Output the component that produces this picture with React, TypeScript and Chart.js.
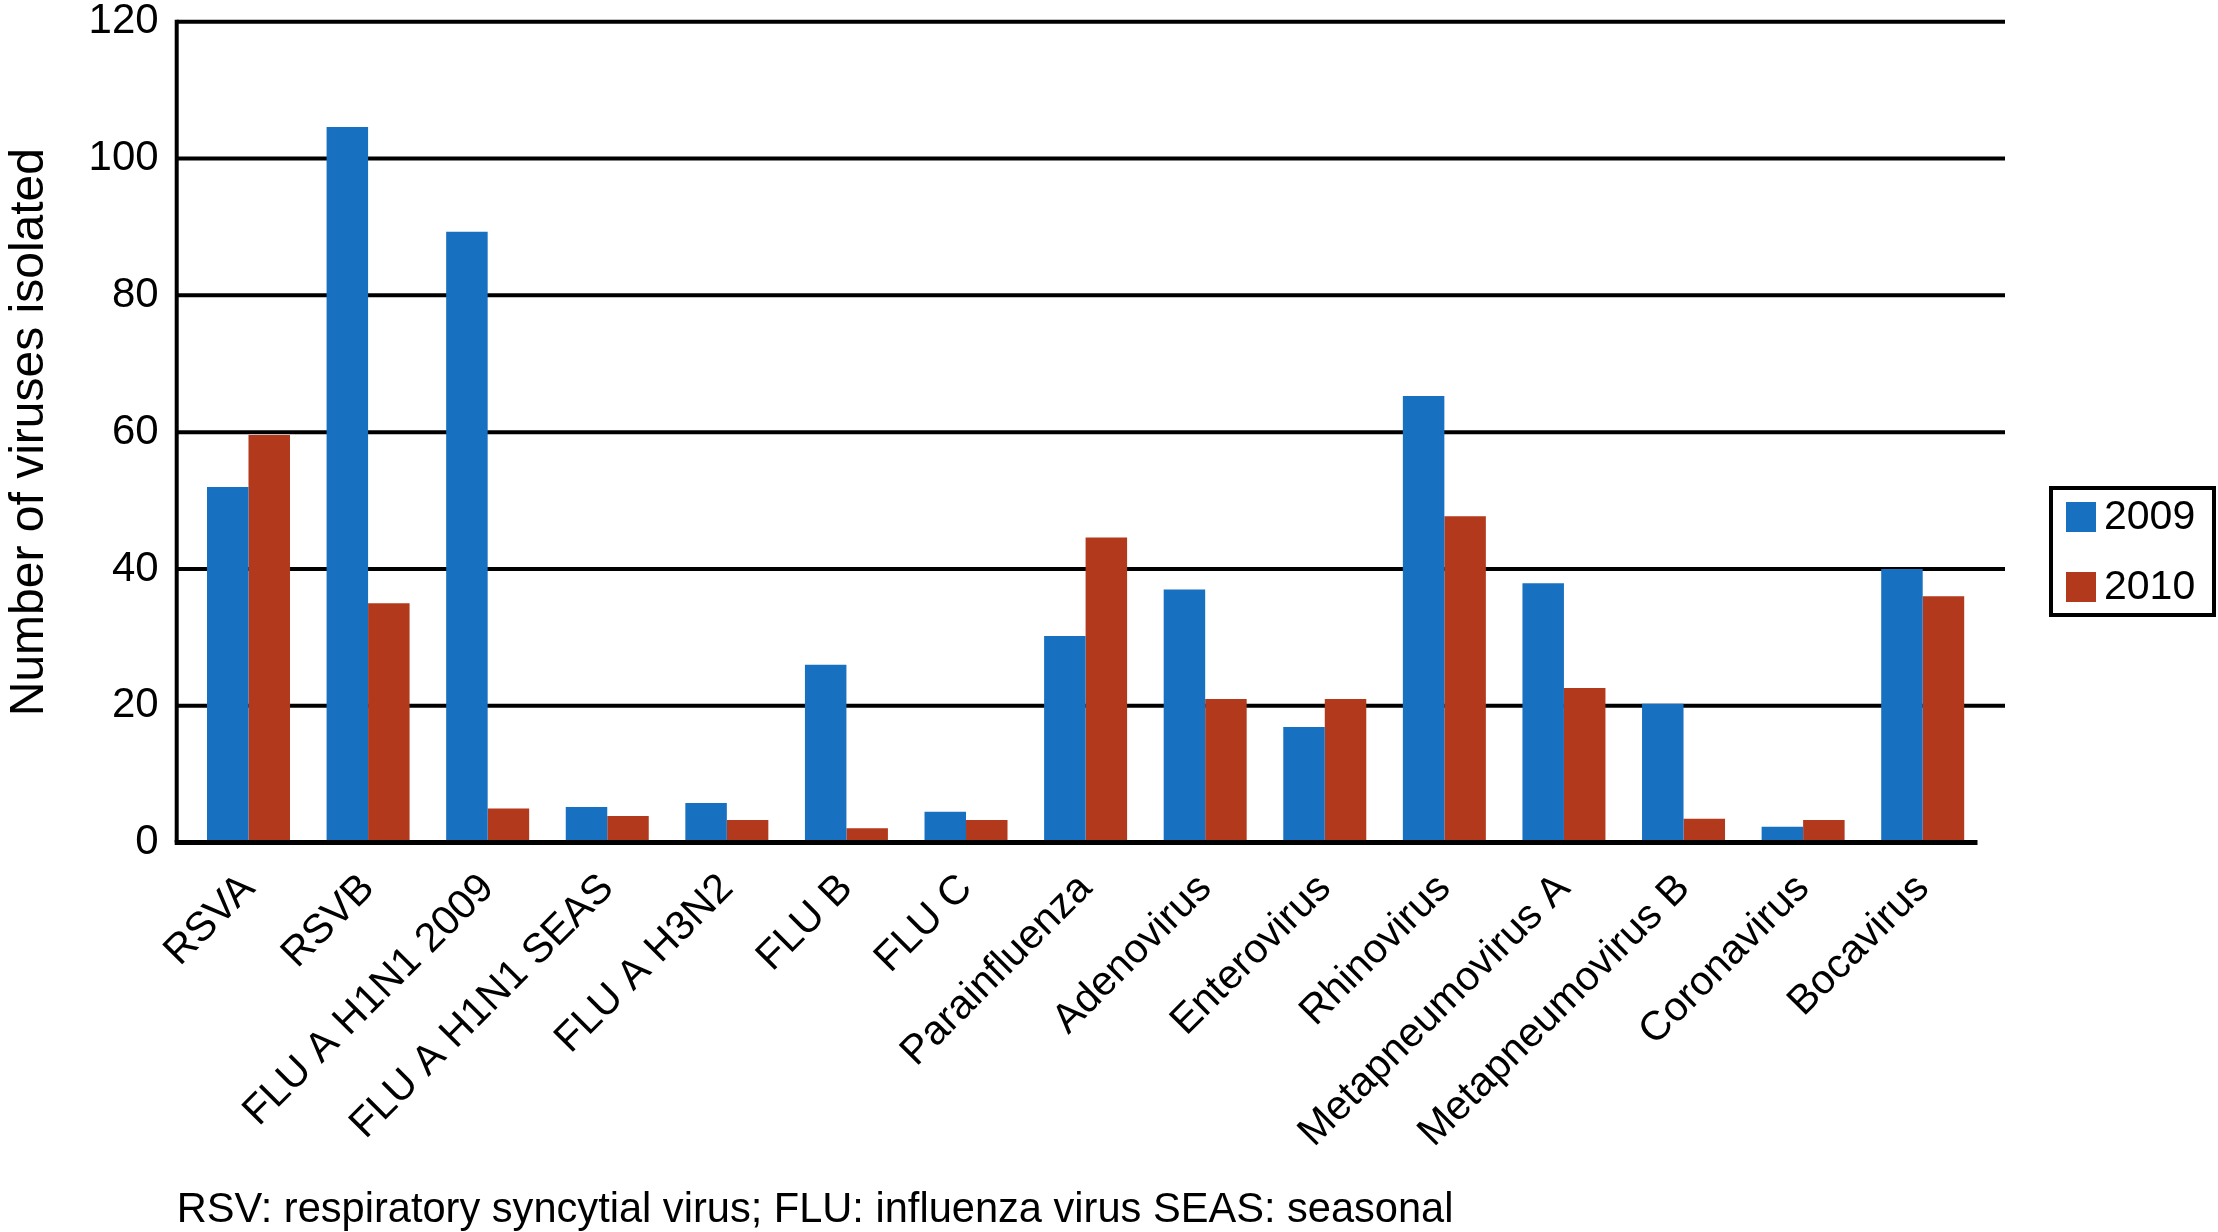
import React, { useEffect, useRef } from 'react';
import { Chart, registerables } from 'chart.js';

Chart.register(...registerables);

const categories = [
  'RSVA',
  'RSVB',
  'FLU A H1N1 2009',
  'FLU A H1N1 SEAS',
  'FLU A H3N2',
  'FLU B',
  'FLU C',
  'Parainfluenza',
  'Adenovirus',
  'Enterovirus',
  'Rhinovirus',
  'Metapneumovirus A',
  'Metapneumovirus B',
  'Coronavirus',
  'Bocavirus',
];

const values2009 = [52, 104.6, 89.3, 5.2, 5.8, 26, 4.5, 30.2, 37, 16.9, 65.3, 37.9, 20.3, 2.3, 40];
const values2010 = [59.6, 35, 5, 3.9, 3.3, 2.1, 3.3, 44.6, 21, 21, 47.7, 22.6, 3.5, 3.3, 36];

const seriesLabels = ['2009', '2010'];
const seriesColors = ['#1870C0', '#B3391C'];

const yMin = 0;
const yMax = 120;
const yStep = 20;

const yAxisTitle = 'Number of viruses isolated';
const footnote = 'RSV: respiratory syncytial virus; FLU: influenza virus SEAS: seasonal';

const FONT = '"Liberation Sans", Arial, Helvetica, sans-serif';

const W = 2218;
const H = 1232;

const decorPlugin = {
  id: 'decor',
  beforeDatasetsDraw(chart: any) {
    const { ctx, chartArea, scales } = chart;
    const y = scales.y;
    const left = chartArea.left - 12;
    const right = chartArea.right + 22.5;
    ctx.save();
    ctx.strokeStyle = '#000';
    ctx.lineWidth = 4;
    for (const t of y.ticks) {
      if (t.value === yMin) continue;
      const py = y.getPixelForValue(t.value);
      ctx.beginPath();
      ctx.moveTo(left, py);
      ctx.lineTo(right, py);
      ctx.stroke();
    }
    ctx.restore();
  },
  afterDatasetsDraw(chart: any) {
    const { ctx, chartArea, scales } = chart;
    const y = scales.y;
    const left = chartArea.left - 12;
    const y0 = y.getPixelForValue(yMin);
    const yTop = y.getPixelForValue(yMax);
    ctx.save();
    ctx.strokeStyle = '#000';
    ctx.lineWidth = 4;
    ctx.beginPath();
    ctx.moveTo(left, yTop - 2);
    ctx.lineTo(left, y0);
    ctx.stroke();
    ctx.lineWidth = 5;
    ctx.beginPath();
    ctx.moveTo(left - 2, y0);
    ctx.lineTo(chartArea.right - 5, y0);
    ctx.stroke();
    ctx.restore();
  },
  afterDraw(chart: any) {
    const { ctx, chartArea } = chart;
    ctx.save();
    // legend box
    const bx = chartArea.right + 68.5;
    const by = 488;
    const bw = 163;
    const bh = 127;
    ctx.strokeStyle = '#000';
    ctx.lineWidth = 4;
    ctx.strokeRect(bx, by, bw, bh);
    ctx.font = `41px ${FONT}`;
    ctx.textBaseline = 'middle';
    ctx.textAlign = 'left';
    chart.data.datasets.forEach((ds: any, i: number) => {
      const cy = by + 29 + i * 70;
      ctx.fillStyle = ds.backgroundColor;
      ctx.fillRect(bx + 15, cy - 15, 30, 30);
      ctx.fillStyle = '#000';
      ctx.fillText(ds.label, bx + 53, cy + 1);
    });
    // footnote
    ctx.font = `41.6px ${FONT}`;
    ctx.textBaseline = 'alphabetic';
    ctx.fillStyle = '#000';
    ctx.fillText(footnote, chartArea.left - 12, 1222);
    ctx.restore();
  },
};

export default function App() {
  const canvasRef = useRef<HTMLCanvasElement | null>(null);

  useEffect(() => {
    document.body.style.margin = '0';
    document.body.style.overflow = 'hidden';
    const canvas = canvasRef.current;
    if (!canvas) return;
    const chart = new Chart(canvas, {
      type: 'bar',
      data: {
        labels: categories,
        datasets: [
          {
            label: seriesLabels[0],
            data: values2009,
            backgroundColor: seriesColors[0],
            borderWidth: 0,
            categoryPercentage: 0.694,
            barPercentage: 1,
          },
          {
            label: seriesLabels[1],
            data: values2010,
            backgroundColor: seriesColors[1],
            borderWidth: 0,
            categoryPercentage: 0.694,
            barPercentage: 1,
          },
        ],
      },
      options: {
        responsive: false,
        animation: false,
        devicePixelRatio: 1,
        layout: {
          padding: { left: 0, top: 21.7, right: W - 1982.5, bottom: 0 },
        },
        plugins: {
          legend: { display: false },
          tooltip: { enabled: false },
          title: { display: false },
        },
        scales: {
          x: {
            type: 'category',
            grid: { display: false, drawTicks: false },
            border: { display: false },
            ticks: {
              autoSkip: false,
              maxRotation: 45,
              minRotation: 45,
              padding: 22,
              color: '#000',
              font: { family: FONT, size: 41 },
            },
            afterFit(scale: any) {
              scale.height = H - 842.6;
              scale.paddingLeft = 0;
              scale.paddingRight = 0;
            },
          },
          y: {
            min: yMin,
            max: yMax,
            grid: { display: false, drawTicks: false },
            border: { display: false },
            ticks: {
              stepSize: yStep,
              padding: 30,
              color: '#000',
              font: { family: FONT, size: 42, lineHeight: 1 },
            },
            title: {
              display: true,
              text: yAxisTitle,
              color: '#000',
              font: { family: FONT, size: 48, lineHeight: 1.25 },
              padding: 0,
            },
            afterFit(scale: any) {
              scale.width = 188.7;
              scale.paddingTop = 0;
              scale.paddingBottom = 0;
            },
          },
        },
      },
      plugins: [decorPlugin],
    });
    return () => chart.destroy();
  }, []);

  return (
    <div style={{ width: W, height: H, position: 'relative', background: '#fff' }}>
      <canvas ref={canvasRef} width={W} height={H} style={{ width: W, height: H, display: 'block' }} />
    </div>
  );
}
